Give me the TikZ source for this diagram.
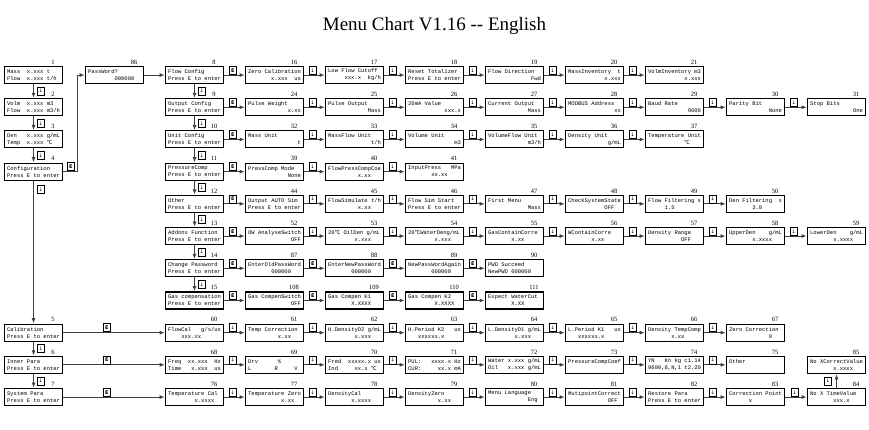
\documentclass[tikz,border=0pt]{standalone}
\usepackage{fontspec}
\setmainfont{Liberation Serif}
\newfontfamily\lcdfont{Liberation Mono}
\newfontfamily\symfont{DejaVu Sans}
\newfontfamily\cjkfont{Noto Sans CJK SC}
\usetikzlibrary{arrows.meta,calc}
\newlength\lcdcw \setlength\lcdcw{3.3pt}
\newcommand{\lcdsp}[1]{\hspace*{#1\lcdcw}}
\newcommand{\dgc}{{\cjkfont ℃}}
\newcommand{\lcd}[2]{\makebox[52.8pt][l]{#1}\\\makebox[52.8pt][l]{#2}}
\newcommand{\dn}{{\symfont ↓}}
\newcommand{\ek}{{\symfont\bfseries E}}
\tikzset{
 lcdbox/.style={draw=black, line width=1.1pt, anchor=north west, minimum width=58pt,
   minimum height=17pt, inner xsep=2.6pt, inner ysep=1pt, align=left,
   font=\lcdfont\fontsize{5.5}{7}\selectfont},
 numlab/.style={anchor=south, inner sep=0.3pt, yshift=1.2pt, font=\fontsize{6.5}{7}\selectfont},
 btn/.style={draw=black, line width=0.9pt, fill=white, minimum width=6.5pt,
   minimum height=8pt, inner sep=0pt, font=\fontsize{5}{5}\selectfont},
 conn/.style={draw=black!75, line width=0.8pt, shorten >=0.4pt, -{Latex[length=5pt,width=4pt]}},
}
\newcommand{\bx}[5]{%
 \node[lcdbox] (b#3) at (#1,{66+32.2*#2}) {\lcd{#4}{#5}};
 \node[numlab] at ([xshift=-10pt]b#3.north east) {#3};}
\newcommand{\hc}[4][5]{%
 \draw[conn] (b#2.east) -- (b#3.west);
 \node[btn, anchor=south west] at ([xshift=#1pt,yshift=0.4pt]b#2.east) {#4};}
\newcommand{\vc}[4][0.5]{%
 \draw[conn] (b#2.south) -- node[btn, pos=#1, anchor=west, xshift=3.5pt]{#4} (b#3.north);}
\begin{document}
\begin{tikzpicture}[x=1pt,y=-1pt]
\useasboundingbox[fill=white] (0,0) rectangle (869,430);
\node[anchor=base, font=\fontsize{19}{22}\selectfont] (title) at (434.5,31) {Menu Chart V1.16 -{}- English};
% column A
\bx{4}{0}{1}{Mass~~x.xxx~t}{Flow~~x.xxx~t/h}
\bx{4}{1}{2}{Volm~~x.xxx~m3}{Flow~~x.xxx~m3/h}
\bx{4}{2}{3}{Den~~~x.xxx~g/mL}{Temp~~x.xxx~\dgc}
\bx{4}{3}{4}{Configuration}{Press E to enter}
\bx{4}{8}{5}{Calibration}{Press E to enter}
\bx{4}{9}{6}{Inner Para}{Press E to enter}
\bx{4}{10}{7}{System Para}{Press E to enter}
\bx{85}{0}{86}{PassWord?}{\lcdsp{8}000000}
% column B
\bx{165}{0}{8}{Flow Config}{Press E to enter}
\bx{165}{1}{9}{Output Config}{Press E to enter}
\bx{165}{2}{10}{Unit Config}{Press E to enter}
\bx{165}{3}{11}{PressureComp}{Press E to enter}
\bx{165}{4}{12}{Other}{Press E to enter}
\bx{165}{5}{13}{Addons Function}{Press E to enter}
\bx{165}{6}{14}{Change Password}{Press E to enter}
\bx{165}{7}{15}{Gas compensation}{Press E to enter}
% row 0
\bx{245}{0}{16}{Zero Calibration}{\hfill x.xxx~~us}
\bx{325}{0}{17}{Low Flow Cutoff}{\hfill xxx.x~~kg/h}
\bx{405}{0}{18}{Reset Totalizer}{Press E to enter}
\bx{485}{0}{19}{Flow Direction}{\hfill Fwd}
\bx{565}{0}{20}{MassInventory~~t}{\hfill x.xxx}
\bx{645}{0}{21}{VolmInventory~m3}{\hfill x.xxx}
% row 1
\bx{245}{1}{24}{Pulse Weight}{\hfill x.xx}
\bx{325}{1}{25}{Pulse Output}{\hfill Mass}
\bx{405}{1}{26}{20mA Value}{\hfill xxx.x}
\bx{485}{1}{27}{Current Output}{\hfill Mass}
\bx{565}{1}{28}{MODBUS Address}{\hfill xx}
\bx{645}{1}{29}{Baud Rate}{\hfill 9600}
\bx{726}{1}{30}{Parity Bit}{\hfill None}
\bx{807}{1}{31}{Stop Bits}{\hfill One}
% row 2
\bx{245}{2}{32}{Mass Unit}{\hfill t}
\bx{325}{2}{33}{MassFlow Unit}{\hfill t/h}
\bx{405}{2}{34}{Volume Unit}{\hfill m3}
\bx{485}{2}{35}{VolumeFlow Unit}{\hfill m3/h}
\bx{565}{2}{36}{Density Unit}{\hfill g/mL}
\bx{645}{2}{37}{Temperature Unit}{\lcdsp{11}\dgc}
% row 3
\bx{245}{3}{39}{PressComp Mode}{\hfill None}
\bx{325}{3}{40}{FlowPressCompCoe}{\lcdsp{9}x.xx}
\bx{405}{3}{41}{InputPress~~~MPa}{\lcdsp{7}xx.xx}
% row 4
\bx{245}{4}{44}{Output AUTO Sim}{Press E to enter}
\bx{325}{4}{45}{FlowSimulate t/h}{\lcdsp{9}x.xx}
\bx{405}{4}{46}{Flow Sim Start}{Press E to enter}
\bx{485}{4}{47}{First Menu}{\hfill Mass}
\bx{565}{4}{48}{CheckSystemState}{\lcdsp{11}OFF}
\bx{645}{4}{49}{Flow Filtering s}{\lcdsp{5}1.5}
\bx{726}{4}{50}{Den Filtering~~s}{\lcdsp{7}3.0}
% row 5
\bx{245}{5}{52}{OW AnalyseSwitch}{\hfill OFF}
\bx{325}{5}{53}{20\dgc~OilDen g/mL}{\lcdsp{8}x.xxx}
\bx{405}{5}{54}{20\dgc WaterDeng/mL}{\lcdsp{8}x.xxx}
\bx{485}{5}{55}{GasContainCorre}{\lcdsp{7}x.xx}
\bx{565}{5}{56}{WContainCorre}{\lcdsp{7}x.xx}
\bx{645}{5}{57}{Density Range}{\lcdsp{10}OFF}
\bx{726}{5}{58}{UpperDen~~~~g/mL}{\lcdsp{7}x.xxxx}
\bx{807}{5}{59}{LowerDen~~~~g/mL}{\lcdsp{7}x.xxxx}
% row 6
\bx{245}{6}{87}{EnterOldPassWord}{\lcdsp{7}000000}
\bx{325}{6}{88}{EnterNewPassWord}{\lcdsp{7}000000}
\bx{405}{6}{89}{NewPassWordAgain}{\lcdsp{7}000000}
\bx{485}{6}{90}{PWD Succeed}{NewPWD 000000}
% row 7
\bx{245}{7}{108}{Gas CompenSwitch}{\hfill OFF}
\bx{325}{7}{109}{Gas Compen K1}{\lcdsp{7}X.XXXX}
\bx{405}{7}{110}{Gas Compen K2}{\lcdsp{8}X.XXXX}
\bx{485}{7}{111}{Expect WaterCut}{\lcdsp{7}X.XX}
% row 8
\bx{165}{8}{60}{FlowCal~~~g/s/us}{\lcdsp{4}xxx.xx}
\bx{245}{8}{61}{Temp Correction}{\lcdsp{9}x.xx}
\bx{325}{8}{62}{H.DensityD2 g/mL}{\lcdsp{8}x.xxx}
\bx{405}{8}{63}{H.Period K2~~~us}{\lcdsp{3}xxxxxx.x}
\bx{485}{8}{64}{L.DensityD1 g/mL}{\lcdsp{8}x.xxx}
\bx{565}{8}{65}{L.Period K1~~~us}{\lcdsp{3}xxxxxx.x}
\bx{645}{8}{66}{Density TempComp}{\lcdsp{7}x.xx}
\bx{726}{8}{67}{Zero Correction}{\lcdsp{12}0}
% row 9
\bx{165}{9}{68}{Freq~~xx.xxx~~Hz}{Time~~~x.xxx~~us}
\bx{245}{9}{69}{Drv~~~~~~\%}{L~~~~~~~R~~~~~V}
\bx{325}{9}{70}{Fred~~xxxxx.x us}{Ind~~~~~xx.x~\dgc}
\bx{405}{9}{71}{PUL:~~~xxxx.x Hz}{CUR:~~~~~xx.x mA}
\bx{485}{9}{72}{Water x.xxx g/mL}{Oil~~~x.xxx g/mL}
\bx{565}{9}{73}{PressureCompCoef}{}
\bx{645}{9}{74}{YN~~~Kn kg c1.14}{9600,8,N,1 t2.20}
\bx{726}{9}{75}{Other}{}
\bx{807}{9}{85}{No XCorrectValue}{\lcdsp{7}x.xxxx}
% row 10
\bx{165}{10}{76}{Temperature Cal}{\lcdsp{8}x.xxxx}
\bx{245}{10}{77}{Temperature Zero}{\lcdsp{10}x.xx}
\bx{325}{10}{78}{DensityCal}{\lcdsp{7}x.xxxx}
\bx{405}{10}{79}{DensityZero}{\lcdsp{9}x.xx}
\bx{485}{10}{80}{Menu Language}{\lcdsp{12}Eng}
\bx{565}{10}{81}{MutipointCorrect}{\lcdsp{12}OFF}
\bx{645}{10}{82}{Restore Para}{Press E to enter}
\bx{726}{10}{83}{Correction Point}{\lcdsp{6}x}
\bx{807}{10}{84}{No X TimeValue}{\lcdsp{7}xxx.x}
% vertical chains
\vc{1}{2}{\dn} \vc{2}{3}{\dn} \vc{3}{4}{\dn}
\vc[0.06]{4}{5}{\dn}
\vc{5}{6}{\dn} \vc{6}{7}{\dn}
\vc{8}{9}{\dn} \vc{9}{10}{\dn} \vc{10}{11}{\dn} \vc{11}{12}{\dn}
\vc{12}{13}{\dn} \vc{13}{14}{\dn} \vc{14}{15}{\dn}
% configuration -> password -> flow config
\draw[conn] (b4.east) -| ([xshift=-8pt]b86.west) -- (b86.west);
\node[btn, anchor=south west] at ([xshift=4pt,yshift=0.4pt]b4.east) {\ek};
\draw[conn] (b86.east) -- (b8.west);
% rows
\hc{8}{16}{\ek} \hc{16}{17}{\dn} \hc{17}{18}{\dn} \hc{18}{19}{\dn} \hc{19}{20}{\dn} \hc{20}{21}{\dn}
\hc{9}{24}{\ek} \hc{24}{25}{\dn} \hc{25}{26}{\dn} \hc{26}{27}{\dn} \hc{27}{28}{\dn} \hc{28}{29}{\dn} \hc{29}{30}{\dn} \hc{30}{31}{\dn}
\hc{10}{32}{\ek} \hc{32}{33}{\dn} \hc{33}{34}{\dn} \hc{34}{35}{\dn} \hc{35}{36}{\dn} \hc{36}{37}{\dn}
\hc{11}{39}{\ek} \hc{39}{40}{\dn} \hc{40}{41}{\dn}
\hc{12}{44}{\ek} \hc{44}{45}{\dn} \hc{45}{46}{\dn} \hc{46}{47}{\dn} \hc{47}{48}{\dn} \hc{48}{49}{\dn} \hc{49}{50}{\dn}
\hc{13}{52}{\ek} \hc{52}{53}{\dn} \hc{53}{54}{\dn} \hc{54}{55}{\dn} \hc{55}{56}{\dn} \hc{56}{57}{\dn} \hc{57}{58}{\dn} \hc{58}{59}{\dn}
\hc{14}{87}{\ek} \hc{87}{88}{\ek} \hc{88}{89}{\ek} \hc{89}{90}{\ek}
\hc{15}{108}{\ek} \hc{108}{109}{\ek} \hc{109}{110}{\ek} \hc{110}{111}{\ek}
\hc[40]{5}{60}{\ek} \hc{60}{61}{\dn} \hc{61}{62}{\dn} \hc{62}{63}{\dn} \hc{63}{64}{\dn} \hc{64}{65}{\dn} \hc{65}{66}{\dn} \hc{66}{67}{\dn}
\hc[40]{6}{68}{\ek} \hc{68}{69}{\dn} \hc{69}{70}{\dn} \hc{70}{71}{\dn} \hc{71}{72}{\dn} \hc{72}{73}{\dn} \hc{73}{74}{\dn} \hc{74}{75}{\dn}
\hc[40]{7}{76}{\ek} \hc{76}{77}{\dn} \hc{77}{78}{\dn} \hc{78}{79}{\dn} \hc{79}{80}{\dn} \hc{80}{81}{\dn} \hc{81}{82}{\dn} \hc{82}{83}{\dn} \hc[6]{83}{84}{\dn}
\draw[conn] (b84.north) -- node[btn, pos=0.5, anchor=east, xshift=-5pt]{\dn} (b85.south);
\end{tikzpicture}
\end{document}
